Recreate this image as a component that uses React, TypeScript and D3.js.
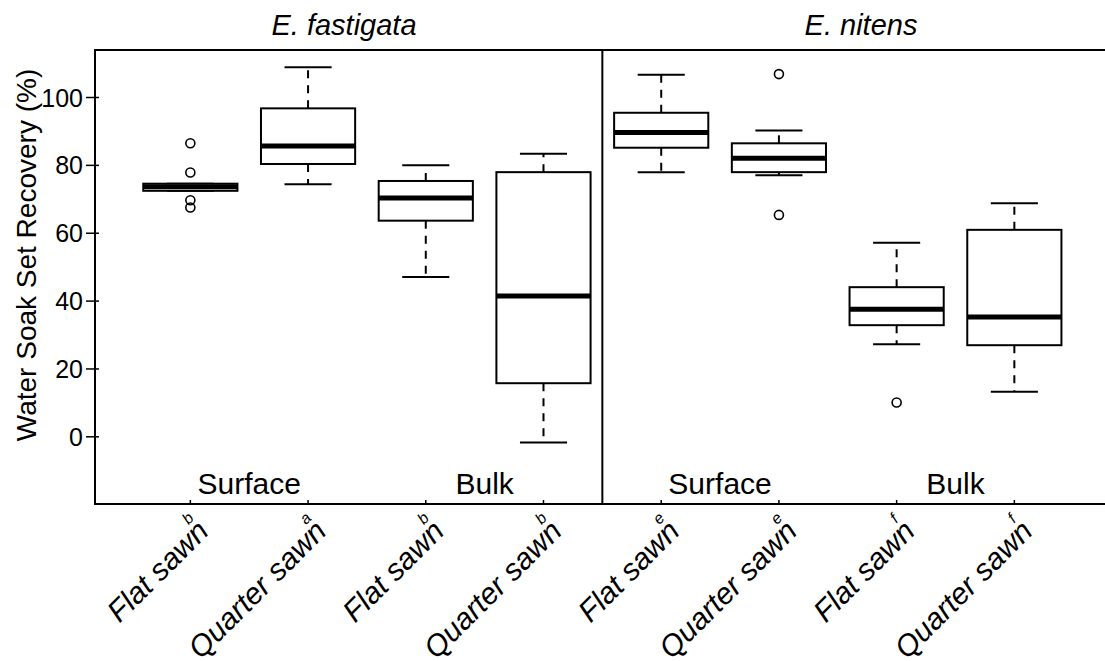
import React, { useRef, useEffect } from 'react'
import * as d3 from 'd3'

// groups, left to right
const labels = ['Flat sawn', 'Quarter sawn', 'Flat sawn', 'Quarter sawn',
  'Flat sawn', 'Quarter sawn', 'Flat sawn', 'Quarter sawn']
const letters = ['b', 'a', 'b', 'b', 'e', 'e', 'f', 'f']
const species = ['E. fastigata', 'E. nitens']
const zones = ['Surface', 'Bulk', 'Surface', 'Bulk']

// box stats (%)
const whiskerLow = [72.5, 74.4, 47.1, -1.7, 78.0, 77.1, 27.3, 13.3]
const q1 = [72.5, 80.4, 63.7, 15.8, 85.2, 78.0, 32.9, 27.0]
const medians = [73.7, 85.7, 70.4, 41.5, 89.7, 82.1, 37.6, 35.3]
const q3 = [74.6, 96.8, 75.4, 78.0, 95.5, 86.5, 44.1, 61.0]
const whiskerHigh = [74.6, 108.9, 80.0, 83.4, 106.7, 90.3, 57.2, 68.8]
const outliers = [[86.5, 77.9, 69.7, 67.6], [], [], [], [], [106.9, 65.4], [10.1], []]

const yTicks = [0, 20, 40, 60, 80, 100]

export default function App() {
  const svgRef = useRef(null)
  const width = 1105
  const height = 661

  useEffect(() => {
    const svg = d3.select(svgRef.current)
    svg.selectAll('*').remove()
    const font = '"Liberation Sans", Arial, sans-serif'

    const x = d3.scaleLinear().domain([0.19, 8.81]).range([95, 1109.7])
    const y = d3.scaleLinear().domain([-19.8, 114]).range([504, 50])
    const bw = x(1.4) - x(1)
    const cw = x(1.2) - x(1)

    const g = svg.append('g')

    // boxes
    labels.forEach((_, i) => {
      const cx = x(i + 1)
      const b = g.append('g')
      // whiskers
      b.append('line')
        .attr('x1', cx).attr('x2', cx)
        .attr('y1', y(q3[i])).attr('y2', y(whiskerHigh[i]))
        .attr('stroke', '#000').attr('stroke-width', 2)
        .attr('stroke-dasharray', '8,7')
      b.append('line')
        .attr('x1', cx).attr('x2', cx)
        .attr('y1', y(q1[i])).attr('y2', y(whiskerLow[i]))
        .attr('stroke', '#000').attr('stroke-width', 2)
        .attr('stroke-dasharray', '8,7')
      ;[whiskerLow[i], whiskerHigh[i]].forEach(v => {
        b.append('line')
          .attr('x1', cx - cw).attr('x2', cx + cw)
          .attr('y1', y(v)).attr('y2', y(v))
          .attr('stroke', '#000').attr('stroke-width', 2)
      })
      b.append('rect')
        .attr('x', cx - bw).attr('width', bw * 2)
        .attr('y', y(q3[i])).attr('height', y(q1[i]) - y(q3[i]))
        .attr('fill', '#fff').attr('stroke', '#000').attr('stroke-width', 2)
      b.append('line')
        .attr('x1', cx - bw).attr('x2', cx + bw)
        .attr('y1', y(medians[i])).attr('y2', y(medians[i]))
        .attr('stroke', '#000').attr('stroke-width', 5)
      outliers[i].forEach(v => {
        b.append('circle')
          .attr('cx', cx).attr('cy', y(v)).attr('r', 4.5)
          .attr('fill', 'none').attr('stroke', '#000').attr('stroke-width', 1.6)
      })
    })

    // frame + panel divider
    g.append('rect')
      .attr('x', x.range()[0]).attr('y', y.range()[1])
      .attr('width', x.range()[1] - x.range()[0])
      .attr('height', y.range()[0] - y.range()[1])
      .attr('fill', 'none').attr('stroke', '#000').attr('stroke-width', 2)
    g.append('line')
      .attr('x1', x(4.5)).attr('x2', x(4.5))
      .attr('y1', y.range()[1]).attr('y2', y.range()[0])
      .attr('stroke', '#000').attr('stroke-width', 2)

    // y axis
    yTicks.forEach(t => {
      g.append('line')
        .attr('x1', 86).attr('x2', 99)
        .attr('y1', y(t)).attr('y2', y(t))
        .attr('stroke', '#000').attr('stroke-width', 1.5)
      g.append('text')
        .attr('x', 83).attr('y', y(t)).attr('dy', '0.36em')
        .attr('text-anchor', 'end')
        .style('font-family', font).style('font-size', '25px')
        .text(t)
    })
    g.append('text')
      .attr('transform', `translate(36,255) rotate(-90)`)
      .attr('text-anchor', 'middle')
      .style('font-family', font).style('font-size', '28px')
      .text('Water Soak Set Recovery (%)')

    // x ticks (inward) + rotated labels
    labels.forEach((lab, i) => {
      const cx = x(i + 1)
      g.append('line')
        .attr('x1', cx).attr('x2', cx)
        .attr('y1', y.range()[0]).attr('y2', y.range()[0] - 4)
        .attr('stroke', '#000').attr('stroke-width', 1.5)
      const lg = g.append('g')
        .attr('transform', `translate(${cx + 20},533) rotate(-45)`)
      lg.append('text')
        .attr('text-anchor', 'end')
        .style('font-family', font).style('font-size', '30px')
        .style('font-style', 'italic')
        .text(lab)
      lg.append('text')
        .attr('x', -5.6).attr('y', -21)
        .attr('text-anchor', 'middle')
        .style('font-family', font).style('font-size', '16px')
        .style('font-style', 'italic')
        .text(letters[i])
    })

    // zone labels
    zones.forEach((z, i) => {
      g.append('text')
        .attr('x', x(i * 2 + 1.5)).attr('y', 494)
        .attr('text-anchor', 'middle')
        .style('font-family', font).style('font-size', '30px')
        .text(z)
    })

    // panel titles
    species.forEach((s, i) => {
      g.append('text')
        .attr('x', i === 0 ? 344 : 861).attr('y', 35)
        .attr('text-anchor', 'middle')
        .style('font-family', font).style('font-size', '29px')
        .style('font-style', 'italic')
        .text(s)
    })
  }, [])

  return (
    <svg
      ref={svgRef}
      width={width}
      height={height}
      style={{ position: 'absolute', left: 0, top: 0, background: '#fff' }}
    />
  )
}
